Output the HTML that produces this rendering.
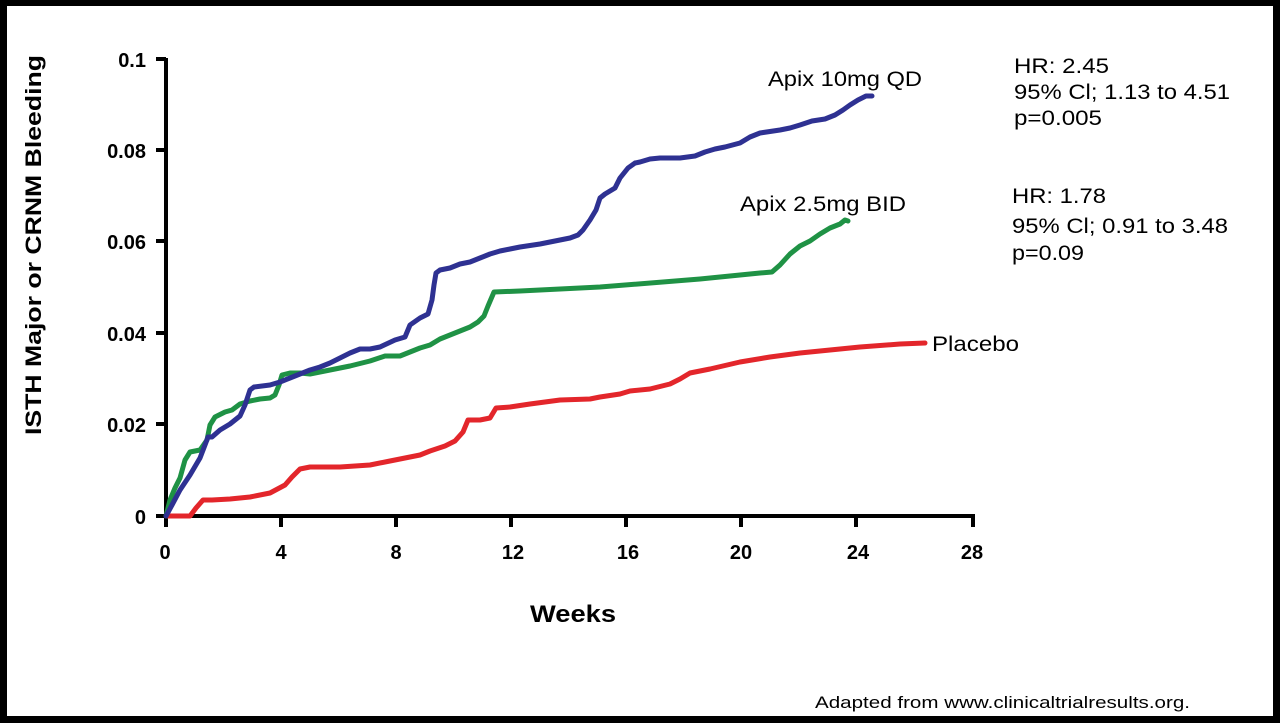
<!DOCTYPE html>
<html><head><meta charset="utf-8"><style>
html,body{margin:0;padding:0;background:#000;}
svg{display:block;}
text{font-family:"Liberation Sans",Arial,sans-serif;}
</style></head><body>
<svg width="1280" height="723" viewBox="0 0 1280 723" xmlns="http://www.w3.org/2000/svg">
<rect x="0" y="0" width="1280" height="723" fill="#000"/>
<rect x="7" y="6" width="1266" height="710" fill="#fff"/>
<g stroke="#000" stroke-width="4" fill="none">
<line x1="166" y1="58" x2="166" y2="518"/>
<line x1="164" y1="516" x2="975" y2="516"/>
<line x1="156" y1="59" x2="166" y2="59"/>
<line x1="156" y1="150" x2="166" y2="150"/>
<line x1="156" y1="241" x2="166" y2="241"/>
<line x1="156" y1="333" x2="166" y2="333"/>
<line x1="156" y1="424" x2="166" y2="424"/>
<line x1="156" y1="516" x2="166" y2="516"/>
<line x1="166" y1="516" x2="166" y2="527"/>
<line x1="281" y1="516" x2="281" y2="527"/>
<line x1="396" y1="516" x2="396" y2="527"/>
<line x1="511" y1="516" x2="511" y2="527"/>
<line x1="626" y1="516" x2="626" y2="527"/>
<line x1="741" y1="516" x2="741" y2="527"/>
<line x1="856" y1="516" x2="856" y2="527"/>
<line x1="973" y1="516" x2="973" y2="527"/>
</g>
<g font-size="20" font-weight="bold" text-anchor="end" fill="#000">
<text x="146" y="67">0.1</text>
<text x="146" y="158">0.08</text>
<text x="146" y="249">0.06</text>
<text x="146" y="341">0.04</text>
<text x="146" y="432">0.02</text>
<text x="146" y="524">0</text>
</g>
<g font-size="20" font-weight="bold" text-anchor="middle" fill="#000">
<text x="165" y="559">0</text>
<text x="281" y="559">4</text>
<text x="396" y="559">8</text>
<text x="513" y="559">12</text>
<text x="628" y="559">16</text>
<text x="741" y="559">20</text>
<text x="858" y="559">24</text>
<text x="972" y="559">28</text>
</g>
<text x="530" y="622" font-size="24" font-weight="bold" textLength="86" lengthAdjust="spacingAndGlyphs">Weeks</text>
<text transform="translate(41,435) rotate(-90)" font-size="22" font-weight="bold" textLength="380" lengthAdjust="spacingAndGlyphs">ISTH Major or CRNM Bleeding</text>
<g fill="none" stroke-width="5" stroke-linejoin="round" stroke-linecap="round">
<polyline stroke="#e3262b" points="166,516 190,516 196,508 203,500 212,500 230,499 250,497 270,493 285,485 292,477 300,469 310,467 340,467 370,465 390,461 410,457 420,455 430,451 445,446 455,441 463,432 468,420 480,420 490,418 496,408 510,407 530,404 560,400 590,399 600,397 620,394 630,391 650,389 670,384 680,379 690,373 710,369 740,362 770,357 800,353 830,350 860,347 900,344 925,343"/>
<polyline stroke="#1f9245" points="166,516 170,500 175,488 180,478 185,460 190,452 200,450 207,440 210,425 215,417 225,412 232,410 240,404 250,401 260,399 270,398 275,395 279,385 282,375 290,373 300,373 310,374 320,372 335,369 350,366 370,361 385,356 400,356 410,352 420,348 430,345 440,339 450,335 460,331 470,327 478,322 484,316 488,306 494,292 520,291 600,287 700,279 760,273 772,272 780,265 790,254 800,246 810,241 820,234 830,228 840,224 845,220 848,221"/>
<polyline stroke="#2e3192" points="166,516 172,505 180,490 190,475 200,458 205,445 208,437 212,437 220,430 230,424 240,416 245,405 250,390 254,387 270,385 280,382 290,378 300,374 310,370 320,367 330,363 340,358 350,353 360,349 370,349 380,347 395,340 405,337 410,325 420,318 428,314 432,300 434,285 436,273 440,270 450,268 460,264 470,262 480,258 490,254 500,251 510,249 520,247 540,244 560,240 570,238 578,235 583,230 590,220 596,210 600,198 605,194 615,188 620,178 628,168 635,163 640,162 650,159 660,158 680,158 695,156 705,152 715,149 725,147 740,143 750,137 760,133 780,130 790,128 800,125 812,121 825,119 835,115 843,110 850,105 858,100 866,96 872,96"/>
</g>
<g font-size="21" fill="#000" lengthAdjust="spacingAndGlyphs">
<text x="768" y="86" textLength="154" lengthAdjust="spacingAndGlyphs">Apix 10mg QD</text>
<text x="740" y="211" textLength="166" lengthAdjust="spacingAndGlyphs">Apix 2.5mg BID</text>
<text x="932" y="351" textLength="87" lengthAdjust="spacingAndGlyphs">Placebo</text>
<text x="1014" y="73" textLength="95" lengthAdjust="spacingAndGlyphs">HR: 2.45</text>
<text x="1014" y="99" textLength="216" lengthAdjust="spacingAndGlyphs">95% Cl; 1.13 to 4.51</text>
<text x="1014" y="125" textLength="88" lengthAdjust="spacingAndGlyphs">p=0.005</text>
<text x="1012" y="203" textLength="94" lengthAdjust="spacingAndGlyphs">HR: 1.78</text>
<text x="1012" y="233" textLength="216" lengthAdjust="spacingAndGlyphs">95% Cl; 0.91 to 3.48</text>
<text x="1012" y="260" textLength="72" lengthAdjust="spacingAndGlyphs">p=0.09</text>
</g>
<text x="815" y="708" font-size="17" fill="#000" textLength="375" lengthAdjust="spacingAndGlyphs">Adapted from www.clinicaltrialresults.org.</text>
</svg>
</body></html>
